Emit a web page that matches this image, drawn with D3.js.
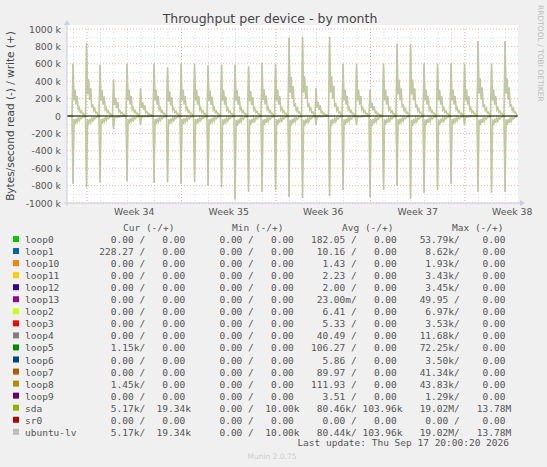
<!DOCTYPE html>
<html><head><meta charset="utf-8">
<script src="https://cdn.jsdelivr.net/npm/d3@7"></script>
<style>body{margin:0;background:#F0F0F0}text{white-space:pre}</style>
</head><body><svg id="c" width="547" height="467"></svg>
<script>
// ---- data ----
const yTicks = [1000,800,600,400,200,0,-200,-400,-600,-800,-1000];
const weekLabels = ["Week 34","Week 35","Week 36","Week 37","Week 38"];
const weekStarts = [1.48, 8.48, 15.48, 22.48, 29.48]; // day index of Monday
const spikeDays = d3.range(33).map(i => 0.37 + i); // one burst per day
const writePeaks = [600,840,590,420,600,320,600,560,600,600,580,590,590,570,610,600,900,910,320,910,600,600,300,600,830,830,600,600,600,600,860,600,860];
const readPeaks = [780,820,760,150,750,100,770,760,780,760,800,820,960,870,870,850,930,940,100,920,850,100,930,850,800,950,880,850,780,100,870,880,870];
const writeShape = [0,1,0.3,0.5,0.22,0.38,0.12,0.16,0.07,0.1,0.04,0.05,0.02];
const readShape = [0,1,0.05,0.12,0.04,0.09,0.03,0.07,0.02,0.04,0.02,0.01,0.01];
const names = ["loop0","loop1","loop10","loop11","loop12","loop13","loop2","loop3","loop4","loop5","loop6","loop7","loop8","loop9","sda","sr0","ubuntu-lv"];
const colors = ["#00CC00","#0066B3","#FF8000","#FFCC00","#330099","#990099","#CCFF00","#FF0000","#808080","#008F00","#00487D","#B35A00","#B38F00","#6B006B","#8FB300","#B30000","#BEBEBE"];
const cur = [["0.00 ","0.00 "],["228.27 ","0.00 "],["0.00 ","0.00 "],["0.00 ","0.00 "],["0.00 ","0.00 "],["0.00 ","0.00 "],["0.00 ","0.00 "],["0.00 ","0.00 "],["0.00 ","0.00 "],["1.15k","0.00 "],["0.00 ","0.00 "],["0.00 ","0.00 "],["1.45k","0.00 "],["0.00 ","0.00 "],["5.17k","19.34k"],["0.00 ","0.00 "],["5.17k","19.34k"]];
const mins = names.map((n,i)=> (n==="sda"||n==="ubuntu-lv") ? ["0.00 ","10.00k"] : ["0.00 ","0.00 "]);
const avg = [["182.05 ","0.00 "],["10.16 ","0.00 "],["1.43 ","0.00 "],["2.23 ","0.00 "],["2.00 ","0.00 "],["23.00m","0.00 "],["6.41 ","0.00 "],["5.33 ","0.00 "],["40.49 ","0.00 "],["106.27 ","0.00 "],["5.86 ","0.00 "],["89.97 ","0.00 "],["111.93 ","0.00 "],["3.51 ","0.00 "],["80.46k","103.96k"],["0.00 ","0.00 "],["80.44k","103.96k"]];
const max = [["53.79k","0.00 "],["8.62k","0.00 "],["1.93k","0.00 "],["3.43k","0.00 "],["3.45k","0.00 "],["49.95 ","0.00 "],["6.97k","0.00 "],["3.53k","0.00 "],["11.68k","0.00 "],["72.25k","0.00 "],["3.50k","0.00 "],["41.34k","0.00 "],["43.83k","0.00 "],["1.29k","0.00 "],["19.02M","13.78M"],["0.00 ","0.00 "],["19.02M","13.78M"]];

// ---- build series ----
const wr = [], rd = [];
wr.push([0,0]); rd.push([0,0]);
spikeDays.forEach((d,i)=>{
  writeShape.forEach((f,k)=>wr.push([d+k/13, writePeaks[i]*f]));
  readShape.forEach((f,k)=>rd.push([d+k/13, -readPeaks[i]*f]));
});
const endDay = spikeDays[32]+1.0;
wr.push([endDay,0]); rd.push([endDay,0]);

// ---- chart ----
const svg = d3.select("#c");
const X0=67, X1=518, Y0=29, Y1=203;
const x = d3.scaleLinear().domain([0,(X1-X0)/13.5]).range([X0,X1]);
const y = d3.scaleLinear().domain([-1000,1000]).range([Y1,Y0]);
svg.append("rect").attr("x",X0).attr("y",Y0-4).attr("width",X1-X0).attr("height",Y1-Y0+4).attr("fill","#fff");
const g = svg.append("g");
d3.range(-1000,1001,100).forEach(v=>{ if(v%200) g.append("line").attr("x1",X0).attr("x2",X1).attr("y1",y(v)).attr("y2",y(v)).attr("stroke","#ccc").attr("stroke-dasharray","1,2").attr("stroke-width",0.6);});
d3.range(0,34).forEach(i=>{const xx=x(weekStarts[0]+i-1); if(xx>X0&&xx<X1) g.append("line").attr("x1",xx).attr("x2",xx).attr("y1",Y0).attr("y2",Y1).attr("stroke","#ccc").attr("stroke-dasharray","1,2").attr("stroke-width",0.6);});
yTicks.forEach(v=>g.append("line").attr("x1",X0).attr("x2",X1).attr("y1",y(v)).attr("y2",y(v)).attr("stroke","#e88").attr("stroke-dasharray","1,2").attr("stroke-width",0.6));
weekStarts.forEach(d=>g.append("line").attr("x1",x(d)).attr("x2",x(d)).attr("y1",Y0).attr("y2",Y1).attr("stroke","#e88").attr("stroke-dasharray","1,2").attr("stroke-width",0.6));
const f = "DejaVu Sans, sans-serif";
yTicks.forEach(v=>svg.append("text").attr("x",61).attr("y",y(v)+3.5).attr("text-anchor","end").attr("font-family",f).attr("font-size",9.3).attr("fill","#555").text(v===0?"0":v+" k"));
weekLabels.forEach((l,i)=>svg.append("text").attr("x",x(weekStarts[i]+3.5)).attr("y",215).attr("text-anchor","middle").attr("font-family",f).attr("font-size",9.3).attr("fill","#555").text(l));
const line = d3.line().x(d=>x(d[0])).y(d=>y(d[1]));
[rd,wr].forEach(s=>{
  g.append("path").datum(s).attr("d",line).attr("fill","none").attr("stroke",colors[14]).attr("stroke-width",1.6).attr("opacity",0.5);
  g.append("path").datum(s).attr("d",line).attr("fill","none").attr("stroke",colors[16]).attr("stroke-width",0.9).attr("opacity",0.85);
});
g.append("line").attr("x1",X0).attr("x2",x(endDay)).attr("y1",y(0)).attr("y2",y(0)).attr("stroke","#000").attr("stroke-width",1.2);
svg.append("line").attr("x1",X0).attr("x2",X0).attr("y1",Y1+3).attr("y2",24).attr("stroke","#ccd").attr("stroke-width",1);
svg.append("path").attr("d",`M${X0-3},25 L${X0+3},25 L${X0},20 Z`).attr("fill","#ccd");
svg.append("line").attr("x1",X0-3).attr("x2",X1+2).attr("y1",Y1).attr("y2",Y1).attr("stroke","#ccd").attr("stroke-width",1);
svg.append("path").attr("d",`M${X1+2},${Y1-3} L${X1+2},${Y1+3} L${X1+7},${Y1} Z`).attr("fill","#ccd");
svg.append("text").attr("x",270).attr("y",23).attr("text-anchor","middle").attr("font-family",f).attr("font-size",12.5).attr("fill","#444").text("Throughput per device - by month");
svg.append("text").attr("transform","translate(14,116) rotate(-90)").attr("text-anchor","middle").attr("font-family",f).attr("font-size",10.5).attr("fill","#444").text("Bytes/second read (-) / write (+)");
svg.append("text").attr("transform","translate(538,5) rotate(90)").attr("font-family",f).attr("font-size",7.5).attr("fill","#bbb").text("RRDTOOL / TOBI OETIKER");
const mono = "DejaVu Sans Mono, monospace", lx = 25;
const pad = (s,n)=>s.padStart(n," ");
const hdr = [["Cur (-/+)",123],["Min (-/+)",232],["Avg (-/+)",342],["Max (-/+)",452]];
hdr.forEach(h=>svg.append("text").attr("x",h[1]).attr("y",231).attr("font-family",mono).attr("font-size",9.5).attr("fill","#555").text(h[0]));
names.forEach((n,i)=>{
  const yy = 243 + i*12.05;
  svg.append("rect").attr("x",13).attr("y",yy-7).attr("width",6).attr("height",6).attr("fill",colors[i]);
  const s = n.padEnd(13," ") + pad(cur[i][0],7)+"/"+pad(cur[i][1],8)
    + pad(mins[i][0],10)+"/"+pad(mins[i][1],8)
    + pad(avg[i][0],9)+"/"+pad(avg[i][1],8)
    + pad(max[i][0],9)+"/"+pad(max[i][1],9);
  svg.append("text").attr("x",lx).attr("y",yy).attr("font-family",mono).attr("font-size",9.5).attr("fill","#555").text(s);
});
svg.append("text").attr("x",509).attr("y",446).attr("text-anchor","end").attr("font-family",mono).attr("font-size",9.5).attr("fill","#555").text("Last update: Thu Sep 17 20:00:20 2026");
svg.append("text").attr("x",272).attr("y",459).attr("text-anchor","middle").attr("font-family",f).attr("font-size",7.5).attr("fill","#ccc").text("Munin 2.0.75");
</script></body></html>
